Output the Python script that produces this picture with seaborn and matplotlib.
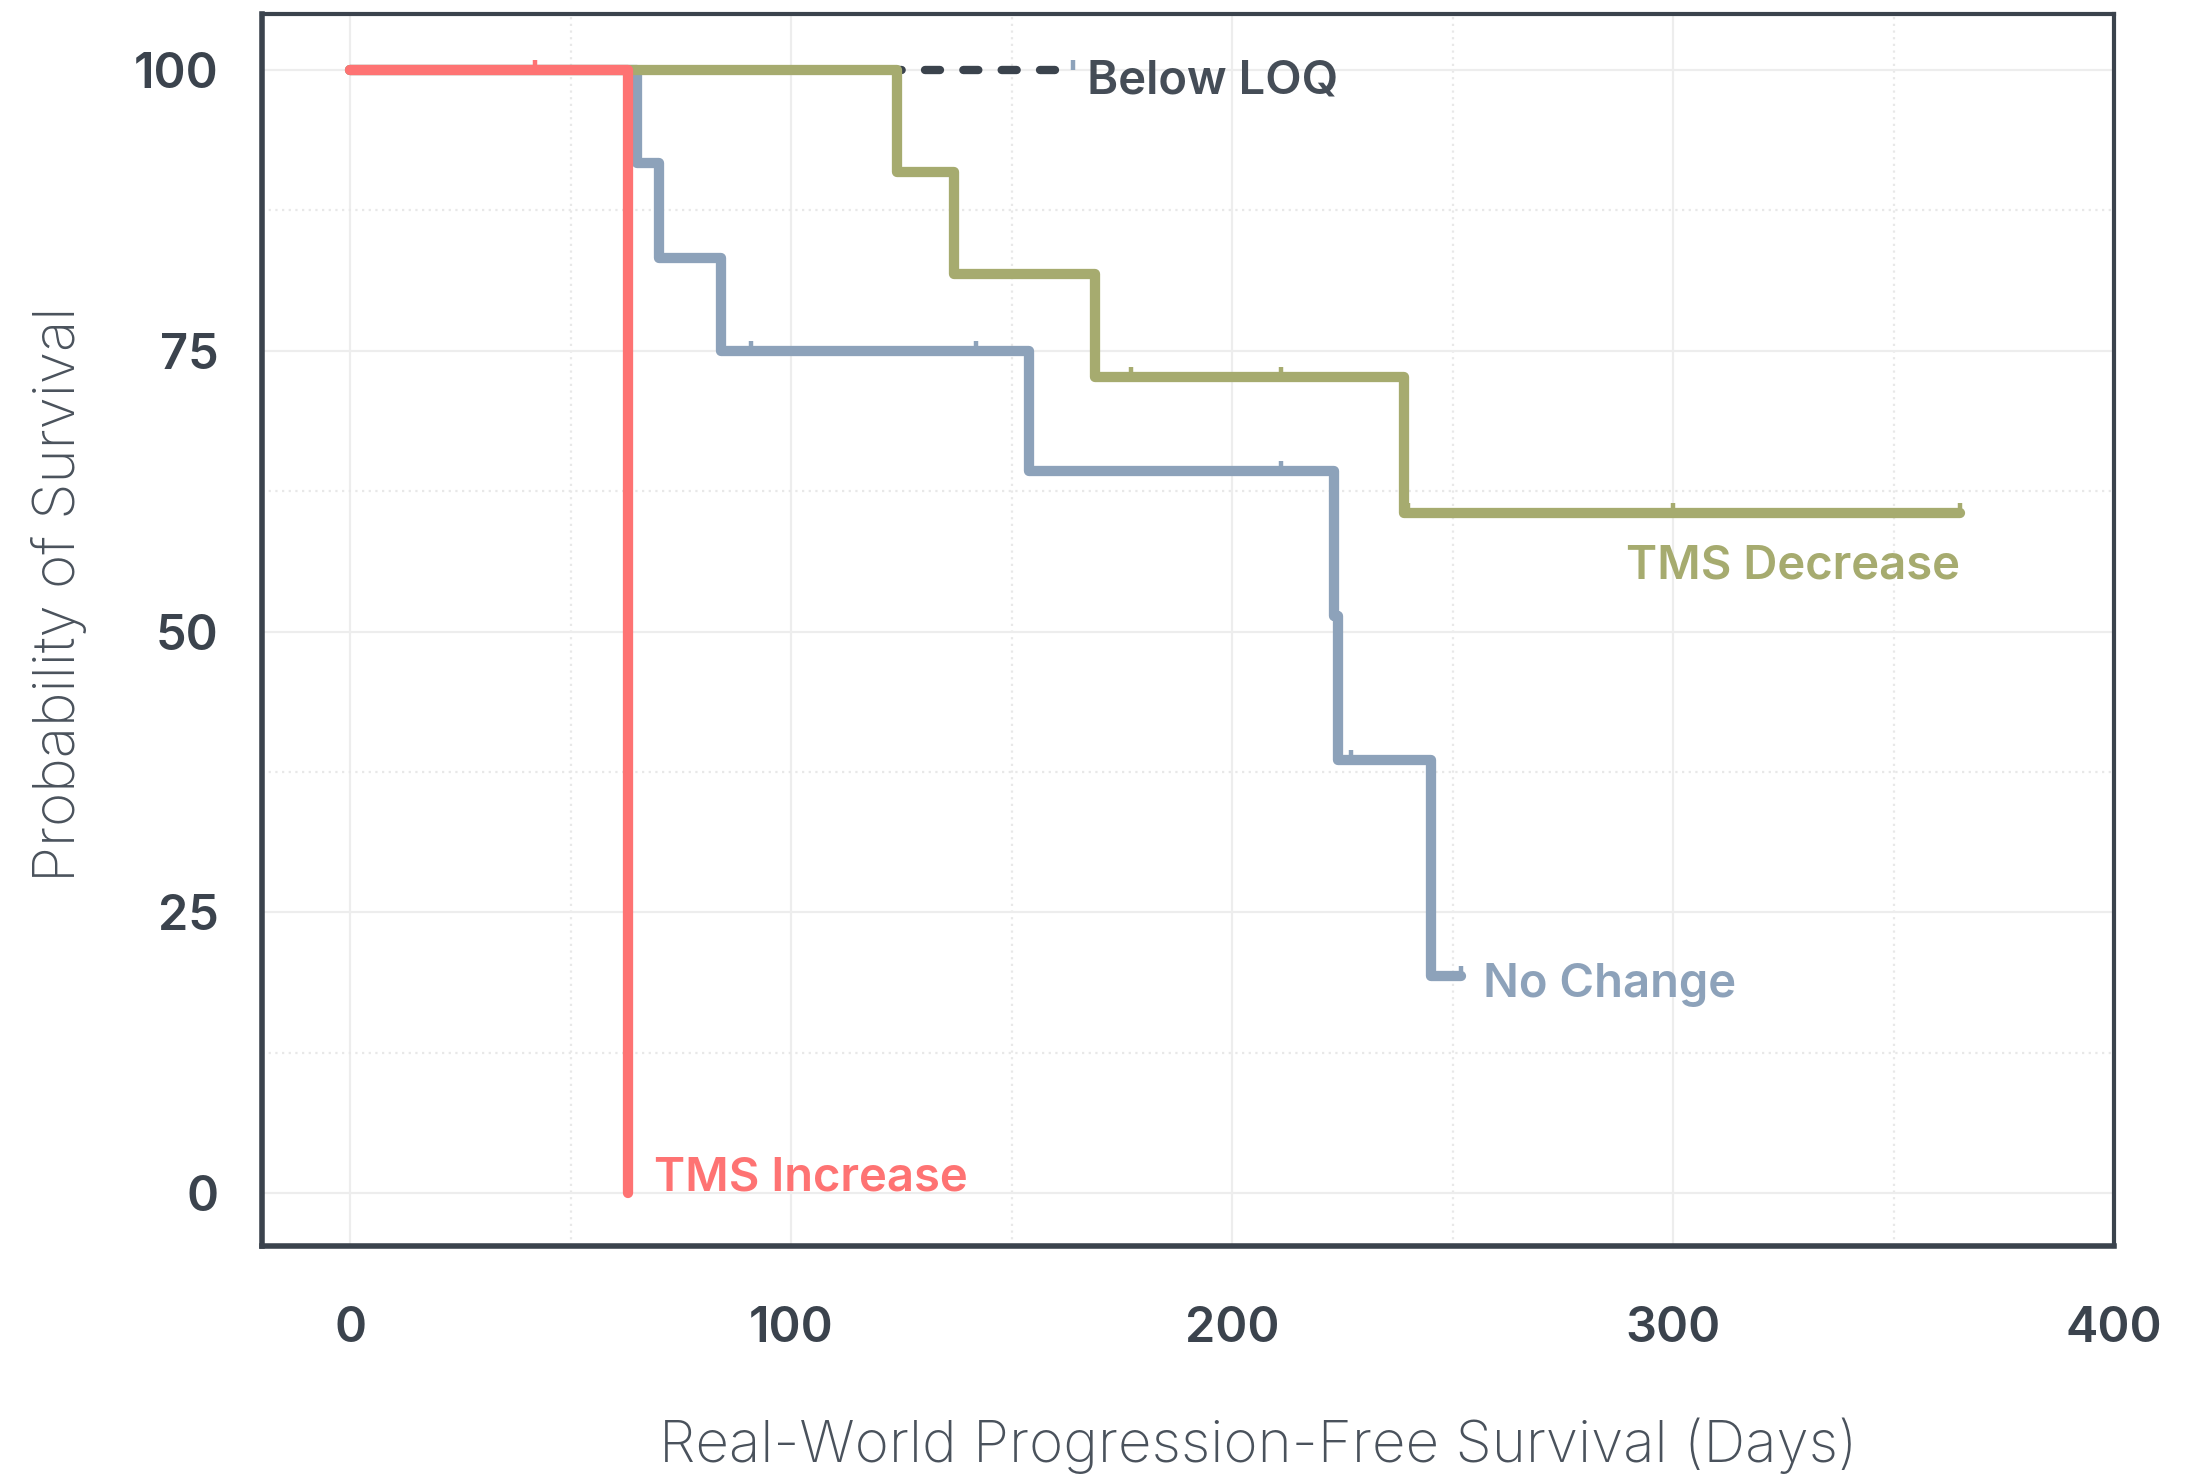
import numpy as np
import pandas as pd
import matplotlib
matplotlib.use("Agg")
import matplotlib.pyplot as plt
import matplotlib.markers as mmarkers
from matplotlib.ticker import MultipleLocator
import seaborn as sns

# Kaplan-Meier step values (days, % surviving)
below_times = [0, 164]
below_surv = [100, 100]
below_cens_t = [164]
below_cens_s = [100]

nochange_times = [0, 65, 70, 84, 154, 223, 224, 245, 252]
nochange_surv = [100, 91.7, 83.3, 75.0, 64.3, 51.4, 38.6, 19.3, 19.3]
nochange_cens_t = [91, 142, 211, 227, 252]
nochange_cens_s = [75.0, 75.0, 64.3, 38.6, 19.3]

decrease_times = [0, 124, 137, 169, 239, 365]
decrease_surv = [100, 90.9, 81.8, 72.7, 60.6, 60.6]
decrease_cens_t = [177, 211, 240, 300, 365]
decrease_cens_s = [72.7, 72.7, 60.6, 60.6, 60.6]

increase_times = [0, 63]
increase_surv = [100, 0]
increase_cens_t = [42]
increase_cens_s = [100]

DARK = "#3b434d"
BLUE = "#8da2ba"
GREEN = "#a6ab6f"
RED = "#fe7373"

sns.set_style("white")
plt.rcParams["font.family"] = ["Inter", "DejaVu Sans"]

fig = plt.figure(figsize=(11.005, 7.42), dpi=200)
ax = fig.add_axes([0.119, 0.1601, 0.8415, 0.8305])

LW = 3.7


def km_line(times, surv, color, **kw):
    df = pd.DataFrame({"t": times, "s": surv})
    sns.lineplot(data=df, x="t", y="s", ax=ax, color=color, lw=LW,
                 drawstyle="steps-post", estimator=None, sort=False, **kw)


def censor(times, surv, color):
    df = pd.DataFrame({"t": times, "s": surv})
    sns.scatterplot(data=df, x="t", y="s", ax=ax, marker=mmarkers.TICKUP,
                    s=14, linewidth=1.6, color=color, edgecolor=color, zorder=6)


# Below LOQ (mostly hidden under the other curves)
km_line(below_times, below_surv, DARK, dashes=False, zorder=2)
ax.lines[-1].set_dashes([1.8, 2.8])
ax.lines[-1].set_dash_capstyle("round")
ax.lines[-1].set_linewidth(3.0)
censor(below_cens_t, below_cens_s, BLUE)

km_line(nochange_times, nochange_surv, BLUE, zorder=3)
censor(nochange_cens_t, nochange_cens_s, BLUE)

km_line(decrease_times, decrease_surv, GREEN, zorder=4)
censor(decrease_cens_t, decrease_cens_s, GREEN)

km_line(increase_times, increase_surv, RED, zorder=5)
censor(increase_cens_t, increase_cens_s, RED)

# direct labels
lab_kw = dict(fontsize=17, fontweight="semibold", va="center")
ax.text(167, 99.0, "Below LOQ", color="#454d57", ha="left", **lab_kw)
ax.text(365, 55.8, "TMS Decrease", color=GREEN, ha="right", **lab_kw)
ax.text(257, 18.5, "No Change", color=BLUE, ha="left", **lab_kw)
ax.text(69, 1.3, "TMS Increase", color=RED, ha="left", **lab_kw)

ax.set_xlim(-20, 400)
ax.set_ylim(-4.75, 105)
ax.xaxis.set_major_locator(MultipleLocator(100))
ax.xaxis.set_minor_locator(MultipleLocator(50))
ax.yaxis.set_major_locator(MultipleLocator(25))
ax.yaxis.set_minor_locator(MultipleLocator(12.5))

ax.grid(which="major", color="#ededed", lw=0.8, ls="-", zorder=0)
ax.grid(which="minor", color="#e8e8e8", lw=0.8, ls=(0, (1, 2)), zorder=0)
ax.set_axisbelow(True)

for side, sp in ax.spines.items():
    sp.set_visible(True)
    sp.set_color(DARK)
    sp.set_linewidth(2.0 if side in ("left", "bottom") else 1.5)

ax.tick_params(which="major", direction="out", length=4.5, width=1.6, color=DARK,
               labelsize=17.5, labelcolor=DARK)
ax.tick_params(which="minor", direction="out", length=2, width=1.4, color=DARK)
ax.tick_params(axis="y", which="major", pad=11)
ax.tick_params(axis="x", which="major", pad=17)
for lab in ax.get_xticklabels() + ax.get_yticklabels():
    lab.set_fontweight("semibold")

ax.set_xlabel("Real-World Progression-Free Survival (Days)", fontsize=21,
              fontweight="light", color="#4a525c")
ax.set_ylabel("Probability of Survival", fontsize=21,
              fontweight="light", color="#4a525c")
ax.xaxis.label.set_va("center")
ax.yaxis.label.set_va("center")
ax.xaxis.set_label_coords(0.538, -0.162)
ax.yaxis.set_label_coords(-0.1096, 0.529)

fig.savefig("out.png", dpi=200)
